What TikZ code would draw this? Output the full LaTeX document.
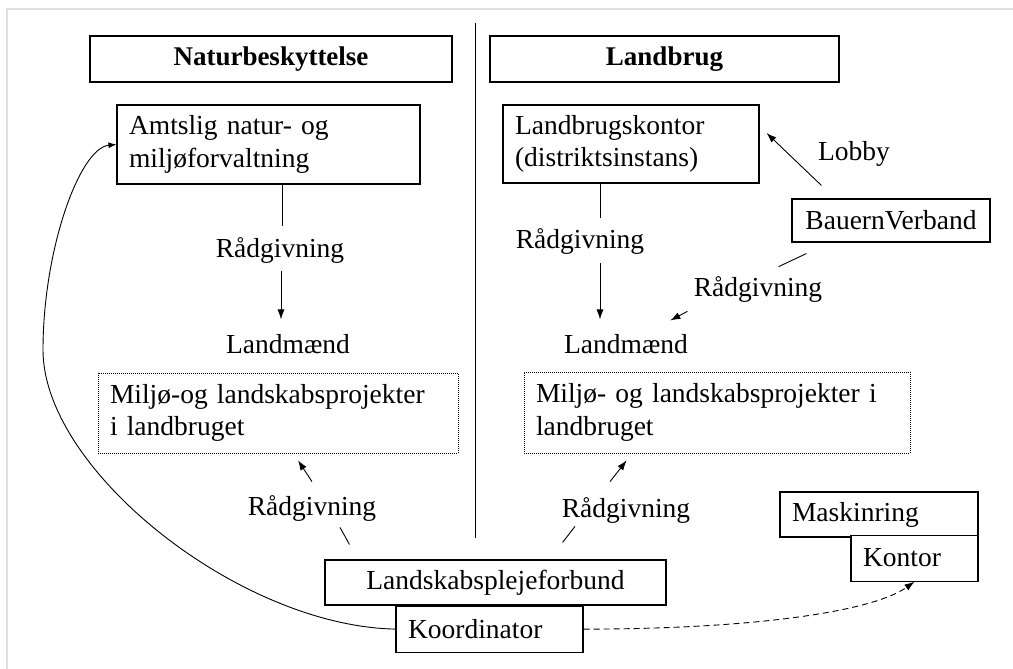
\documentclass[tikz,border=0pt]{standalone}
\usepackage{fontspec}
\setmainfont{Liberation Serif}
\usetikzlibrary{positioning, arrows.meta}

\begin{document}
\begin{tikzpicture}[x=1pt, y=-1pt, line width=0.9pt,
  font=\fontsize{27.5}{32.5}\selectfont,
  main box/.style={draw, line width=1.1pt, inner sep=0pt, align=center},
  text box/.style={draw, line width=1.1pt, inner xsep=12pt, inner ysep=0pt, align=left},
  proj box/.style={draw, line width=0.7pt, dash pattern=on 1pt off 1pt,
    inner xsep=12pt, inner ysep=0pt, align=left},
  label node/.style={inner sep=0pt, anchor=base},
  arr/.style={-{Latex[length=10pt,width=7pt]}}]

\useasboundingbox (0,0) rectangle (1013,669);
\draw[black!12, line width=1.5pt] (7,669) -- (7,9) -- (1013,9);
\draw (475,23) -- (475,538);

% headings
\node[main box, minimum width=362pt, minimum height=46pt,
  font=\fontsize{27}{32}\selectfont\bfseries] (natur) at (271,59) {Naturbeskyttelse};
\node[main box, minimum width=349pt, minimum height=46pt,
  font=\fontsize{27}{32}\selectfont\bfseries] (land) at (664.5,59) {Landbrug};

% boxes
\node[text box, text width=279pt, minimum height=79pt] (amt) at (268.5,144.5)
  {Amtslig natur- og\\miljøforvaltning};
\node[text box, text width=232pt, minimum height=78pt] (kontor) at (631,144)
  {Landbrugskontor\\(distriktsinstans)};
\node[main box, minimum width=198pt, minimum height=43pt] (bauern) at (891,220.5) {BauernVerband};
\node[proj box, text width=336pt, minimum height=80pt] (projL) at (278,413)
  {Miljø-og landskabsprojekter\\i landbruget};
\node[proj box, text width=362pt, minimum height=81pt] (projR) at (717,412.5)
  {Miljø- og landskabsprojekter i\\landbruget};
\node[main box, minimum width=341pt, minimum height=45pt] (landsk) at (495.5,582.5)
  {Landskabsplejeforbund};
\node[text box, text width=163pt, minimum height=46pt, below=0pt of landsk.south,
  xshift=-6pt] (koord) {Koordinator};
\node[text box, text width=174pt, minimum height=45pt] (maskin) at (879,514.5) {Maskinring};
\node[text box, fill=white, text width=103pt, minimum height=46pt,
  below left=-3pt and 0pt of maskin.south east] (kontorM) {Kontor};

% labels
\node[label node] (radL1) at (280,257) {Rådgivning};
\node[label node] (landmL) at (288,353) {Landmænd};
\node[label node] (radL2) at (312,515) {Rådgivning};
\node[label node] (radR1) at (580,248) {Rådgivning};
\node[label node] (landmR) at (626,353) {Landmænd};
\node[label node] (radR2) at (758,296) {Rådgivning};
\node[label node] (lobby) at (854,160) {Lobby};
\node[label node] (radR3) at (626,517) {Rådgivning};

% connectors
\draw ([xshift=2pt]radL1.north |- amt.south) -- ([shift={(2pt,11pt)}]radL1.north);
\draw[arr, shorten <=8pt, shorten >=14pt] ([xshift=1pt]radL1.south)
  -- ([xshift=1pt]radL1.south |- landmL.north);
\draw ([xshift=20pt]radR1.north |- kontor.south) -- ([shift={(20pt,10pt)}]radR1.north);
\draw[arr, shorten <=9pt, shorten >=14pt] ([xshift=20pt]radR1.south)
  -- ([xshift=20pt]radR1.south |- landmR.north);
\draw[arr] ([shift={(30pt,13pt)}]bauern.north west) -- ([shift={(7pt,11pt)}]kontor.east);
\draw ([shift={(15pt,-11pt)}]bauern.south west) -- ([shift={(-44pt,9pt)}]radR2.north east);
\draw[arr] ([shift={(-6pt,-9pt)}]radR2.south west) -- ([shift={(-18pt,13pt)}]landmR.north east);

\draw[arr] ([yshift=13pt]radL2.north) -- ([shift={(20pt,-7pt)}]projL.south);
\draw ([shift={(28pt,-6pt)}]radL2.south) -- ([shift={(25pt,15pt)}]landsk.north west);
\draw[arr] ([shift={(-16pt,15pt)}]radR3.north) -- ([shift={(103pt,-7pt)}]projR.south west);
\draw ([shift={(-51pt,-3pt)}]radR3.south) -- ([shift={(-104pt,17pt)}]landsk.north east);

\draw[-{Latex[length=8pt,width=6pt]}] (koord.west) .. controls +(-156,-3) and +(0,120) .. (43,350)
  .. controls +(0,-100) and +(-37,3.5) .. (amt.west);
\draw[arr, dash pattern=on 6pt off 4pt] (koord.east) .. controls +(170,0) and +(-42,30) .. (kontorM.south);

\end{tikzpicture}
\end{document}
